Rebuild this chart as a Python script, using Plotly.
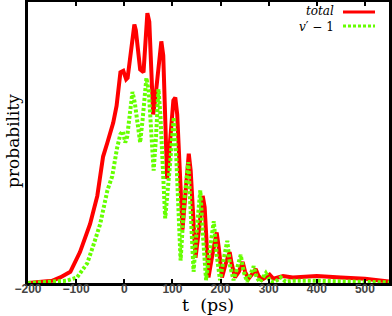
import plotly.graph_objects as go

total_t = [-200, -175, -150, -133, -112, -92, -71, -56, -44, -35, -28, -23, -16, -8, -2, 4, 7,
           17, 21, 24, 33, 40, 48, 52, 60, 64, 77, 81, 89, 95, 102, 106, 110, 121, 128, 134, 138,
           148, 156, 163, 167, 175, 183, 192, 196, 203, 211, 219, 223, 230, 238, 246, 251, 258,
           265, 273, 279, 286, 294, 302, 310, 320, 330, 350, 400, 450, 500, 550]
total_p = [0.0, 0.003, 0.008, 0.02, 0.04, 0.11, 0.21, 0.31, 0.45, 0.50, 0.54, 0.57, 0.63, 0.75, 0.755,
           0.725, 0.73, 0.88, 0.92, 0.90, 0.76, 0.75, 0.96, 0.93, 0.60, 0.65, 0.86, 0.81, 0.37, 0.50,
           0.65, 0.66, 0.60, 0.19, 0.35, 0.46, 0.40, 0.09, 0.20, 0.31, 0.27, 0.02, 0.10, 0.18, 0.13,
           0.02, 0.07, 0.11, 0.07, 0.02, 0.04, 0.075, 0.04, 0.015, 0.03, 0.05, 0.025, 0.012, 0.02,
           0.03, 0.015, 0.02, 0.025, 0.02, 0.025, 0.02, 0.015, 0.005]

v1_t = [-200, -150, -120, -98, -77, -65, -50, -35, -25, -15, -8, -3, 2, 6, 17, 22, 33, 38, 46, 51,
        61, 66, 71, 75, 85, 95, 103, 108, 117, 125, 133, 138, 144, 151, 158, 163, 170, 178, 186,
        192, 199, 206, 214, 220, 227, 234, 242, 248, 255, 262, 269, 275, 282, 288, 294, 302, 310,
        318, 325, 335, 350, 400, 450, 500, 550]
v1_p = [0.0, 0.003, 0.008, 0.02, 0.07, 0.13, 0.21, 0.33, 0.38, 0.48, 0.53, 0.54, 0.50, 0.52, 0.68,
        0.64, 0.50, 0.58, 0.73, 0.68, 0.40, 0.52, 0.69, 0.60, 0.23, 0.42, 0.59, 0.45, 0.08, 0.30,
        0.43, 0.25, 0.04, 0.20, 0.33, 0.18, 0.01, 0.12, 0.22, 0.10, 0.01, 0.08, 0.15, 0.06, 0.01,
        0.05, 0.10, 0.04, 0.005, 0.03, 0.06, 0.02, 0.003, 0.02, 0.035, 0.01, 0.003, 0.01, 0.02,
        0.005, 0.008, 0.008, 0.006, 0.004, 0.002]

x_ticks = [-200, -100, 0, 100, 200, 300, 400, 500]
legend_labels = ["<i>total</i>", "<i>v</i>′ − 1"]

W, H = 392, 316
L, R, T, B = 28, 3, 2, 33
pw, ph = W - L - R, H - T - B

fig = go.Figure()
fig.add_trace(go.Scatter(x=total_t, y=total_p, mode="lines",
                         line=dict(color="#ff0000", width=4), name="total"))
fig.add_trace(go.Scatter(x=v1_t, y=v1_p, mode="lines",
                         line=dict(color="#66ff00", width=4, dash="3px,2px"), name="v'-1"))

fig.update_layout(
    width=W, height=H,
    margin=dict(l=L, r=R, t=T, b=B, autoexpand=False),
    paper_bgcolor="white", plot_bgcolor="white",
    showlegend=False,
    xaxis=dict(range=[-200, 550], tickvals=x_ticks, ticks="inside", ticklen=4, tickwidth=2,
               tickcolor="black", showgrid=False, zeroline=False, showline=True, linewidth=3,
               linecolor="black", mirror="ticks", automargin=False, ticklabelstandoff=-7,
               tickfont=dict(family="Liberation Sans", size=12, color="#444", weight="bold")),
    yaxis=dict(range=[0, 1], showticklabels=False, ticks="", showgrid=False, zeroline=False,
               showline=True, linewidth=3, linecolor="black", mirror=True, automargin=False),
)

def px_x(px):
    return (px - L) / pw

def px_y(py):
    return (H - B - py) / ph

# axis titles
fig.add_annotation(x=px_x(208), y=px_y(305), xref="x domain", yref="y domain", text="t  (ps)",
                   showarrow=False, xanchor="center", yanchor="middle", borderpad=0,
                   font=dict(family="DejaVu Serif", size=17.5, color="black"))
fig.add_annotation(x=px_x(13), y=px_y(141), xref="x domain", yref="y domain", text="probability",
                   showarrow=False, xanchor="center", yanchor="middle", textangle=-90,
                   font=dict(family="DejaVu Serif", size=17, color="black"))

# legend drawn manually (text left of sample)
ys = [12, 26]
colors = ["#ff0000", "#66ff00"]
dashes = ["solid", "3px,2px"]
fig.add_annotation(x=px_x(335), y=px_y(19), xref="x domain", yref="y domain",
                   text="<br>".join(legend_labels), align="right",
                   showarrow=False, xanchor="right", yanchor="middle", borderpad=0,
                   font=dict(family="DejaVu Serif", size=12, color="black"))
for yy, c, d in zip(ys, colors, dashes):
    fig.add_shape(type="line", xref="x domain", yref="y domain",
                  x0=px_x(343), x1=px_x(375), y0=px_y(yy), y1=px_y(yy),
                  line=dict(color=c, width=3, dash=d))

fig.write_html("out.html", config={"displayModeBar": False},
               post_script="document.body.style.margin='0';document.body.style.overflow='hidden';")
